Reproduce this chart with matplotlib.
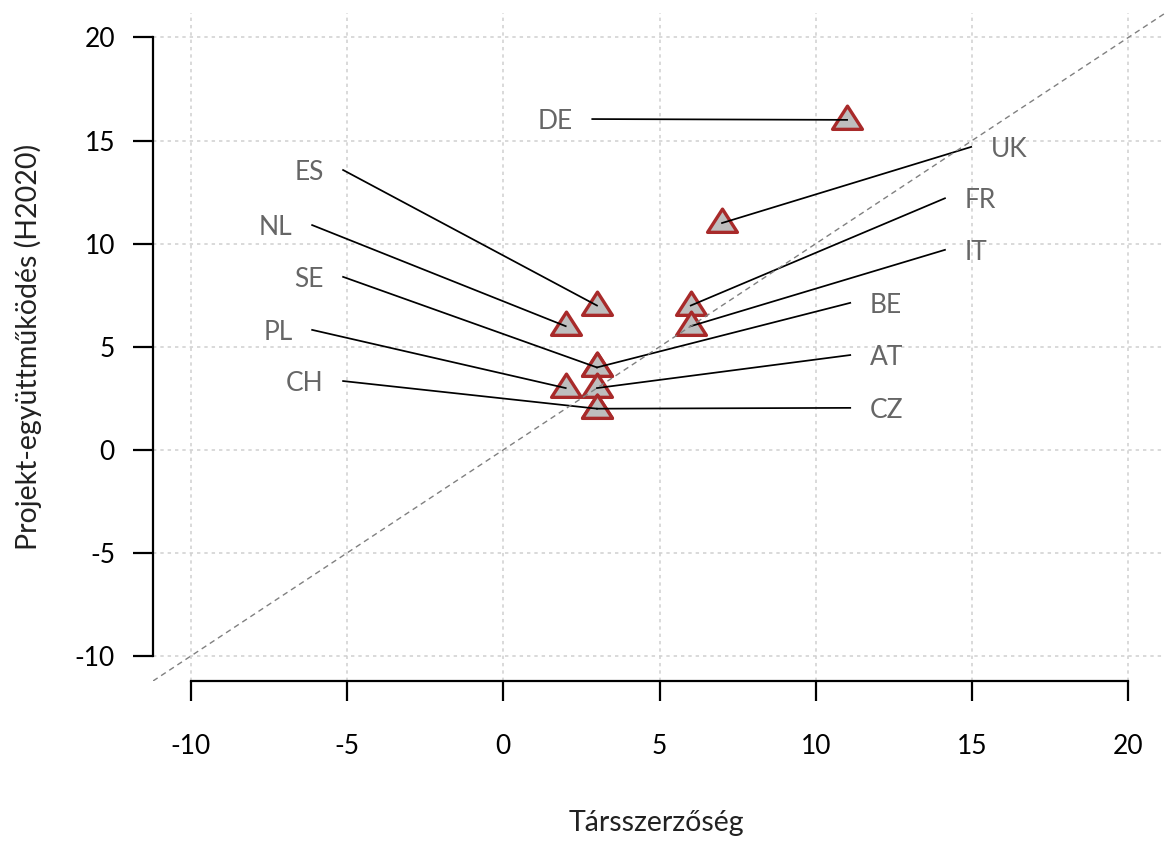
import matplotlib
matplotlib.use("Agg")
import matplotlib.pyplot as plt
from matplotlib.path import Path

plt.rcParams['font.family'] = ['Lato', 'DejaVu Sans']

# data
countries = ["DE", "UK", "ES", "NL", "FR", "IT", "SE", "BE", "PL", "AT", "CZ", "CH"]
coauthor = [11, 7, 3, 2, 6, 6, 3, 3, 2, 3, 3, 3]
h2020 = [16, 11, 7, 6, 7, 6, 4, 4, 3, 3, 2, 2]
# where each label's leader line starts (data units)
label_x = [2.85, 14.97, -5.12, -6.11, 14.13, 14.13, -5.12, 11.1, -6.11, 11.1, 11.1, -5.12]
label_y = [16.04, 14.69, 13.57, 10.9, 12.2, 9.7, 8.39, 7.13, 5.82, 4.6, 2.04, 3.34]
ticks = [-10, -5, 0, 5, 10, 15, 20]

fig = plt.figure(figsize=(11.65, 8.42), dpi=100)
ax = fig.add_axes([153 / 1165, 1 - 681 / 842, 1013 / 1165, 668.4 / 842])
ax.set_xlim(-11.2, 21.2)
ax.set_ylim(-11.2, 21.2)

# grid
for t in ticks:
    ax.axvline(t, color="#d0d0d0", lw=1.1, ls=(0, (2.2, 2.6)), zorder=0)
    ax.axhline(t, color="#d0d0d0", lw=1.1, ls=(0, (2.2, 2.6)), zorder=0)

# triangles, with the data point a bit below the middle like R's pch 24
tri = Path([(0, 13), (-13.5, -8), (13.5, -8), (0, 13)],
           [Path.MOVETO, Path.LINETO, Path.LINETO, Path.CLOSEPOLY])
ax.plot(coauthor, h2020, ls="none", marker=tri, ms=21.5, mfc="#bebebe",
        mec="#a82a2a", mew=2.4, zorder=2)

# leader lines and labels
for name, x, y, lx, ly in zip(countries, coauthor, h2020, label_x, label_y):
    ax.plot([lx, x], [ly, y], color="black", lw=1.25, zorder=3)
    left = lx < x
    ax.annotate(name, (lx, ly), xytext=(-14 if left else 14, 0),
                textcoords="offset points", ha="right" if left else "left",
                va="center_baseline", fontsize=19, color="#666666")

ax.axline((0, 0), slope=1, color="#808080", lw=1.0, ls=(0, (4, 3)), zorder=4)

for s in ["top", "right"]:
    ax.spines[s].set_visible(False)
ax.spines["left"].set_bounds(-10, 20)
ax.spines["bottom"].set_bounds(-10, 20)
for s in ["left", "bottom"]:
    ax.spines[s].set_linewidth(1.6)
ax.set_xticks(ticks)
ax.set_yticks(ticks)
ax.set_xticklabels([str(t) for t in ticks])
ax.set_yticklabels([str(t) for t in ticks])
ax.tick_params(axis="both", direction="out", length=14.4, width=1.6, labelsize=19)
ax.tick_params(axis="x", pad=24)
ax.tick_params(axis="y", pad=13)

fig.text(656 / 1165, 1 - 823 / 842, "Társszerzőség", ha="center", va="center",
         fontsize=20.5, color="#222222")
fig.text(28 / 1165, 1 - 347 / 842, "Projekt-együttműködés (H2020)", ha="center",
         va="center", rotation=90, fontsize=20.5, color="#222222")

fig.savefig("out.png", dpi=100)
